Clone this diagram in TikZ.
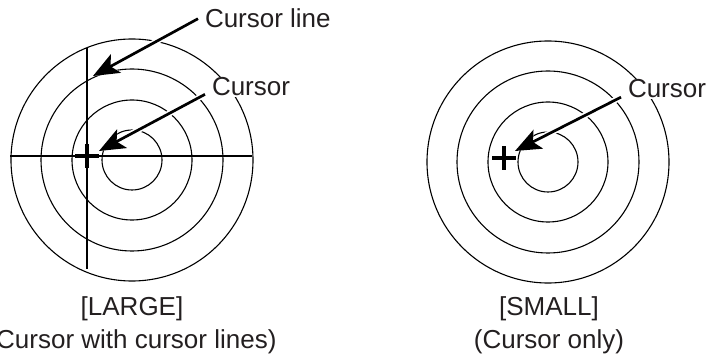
\documentclass[tikz,border=0pt]{standalone}
\usepackage{fontspec}
\setmainfont{Liberation Sans}
\usetikzlibrary{arrows.meta}
\definecolor{ink}{RGB}{35,31,32}

\begin{document}
\begin{tikzpicture}[x=1pt, y=-1pt,
	ring/.style={draw=black, line width=1.1pt},
	hair/.style={draw=black, line width=1.2pt},
	crosshair/.style={draw=black, line width=4pt},
	label/.style={fill=white, text=ink, inner sep=1pt, outer sep=6pt, font=\fontsize{26}{33}\selectfont},
	caption/.style={text=ink, align=center, inner sep=0pt, font=\fontsize{26}{33}\selectfont},
	pointer/.style={draw=black, line width=2.7pt, -{Stealth[length=26pt, width=21pt, inset=6pt]}, preaction={draw=white, line width=6pt}}]
	
	\useasboundingbox (0,0) rectangle (716,358);
	
	% large: rings, cursor lines and cursor
	\coordinate (lc) at (132,160);
	\foreach \r in {30,60,91,121}
		\draw[ring] (lc) circle (\r);
	
	\coordinate (vt) at (87,48);
	\coordinate (vb) at (87,269);
	\coordinate (hl) at (10,156);
	\coordinate (hr) at (252,156);
	\draw[hair] (vt) -- (vb);
	\draw[hair] (hl) -- (hr);
	
	\coordinate (lx) at (87,156);
	\draw[crosshair] ([xshift=-12pt]lx) -- ([xshift=12pt]lx)
		([yshift=-12pt]lx) -- ([yshift=12pt]lx);
	
	% small: rings and cursor only
	\coordinate (rc) at (548,162);
	\foreach \r in {30,60,91,121}
		\draw[ring] (rc) circle (\r);
	
	\coordinate (rx) at (504,158);
	\draw[crosshair] ([xshift=-12pt]rx) -- ([xshift=12pt]rx)
		([yshift=-12pt]rx) -- ([yshift=12pt]rx);
	
	% labels
	\node[label, anchor=base west] (cl)   at (198,28) {Cursor line};
	\node[label, anchor=base west] (lcur) at (205,96) {Cursor};
	\node[label, anchor=base west] (rcur) at (621,98) {Cursor};
	
	\coordinate (tcl) at (93,76);
	\coordinate (tlc) at (99,151);
	\coordinate (trc) at (515,151);
	
	\draw[pointer] (cl.west) -- (tcl);
	\draw[pointer] (lcur.189) -- (tlc);
	\draw[pointer] (rcur.190) -- (trc);
	
	\node[caption, anchor=base] (lcap) at (132,349) {[LARGE]\\(Cursor with cursor lines)};
	\node[caption, anchor=base] (rcap) at (549,349) {[SMALL]\\(Cursor only)};
	
\end{tikzpicture}
\end{document}
